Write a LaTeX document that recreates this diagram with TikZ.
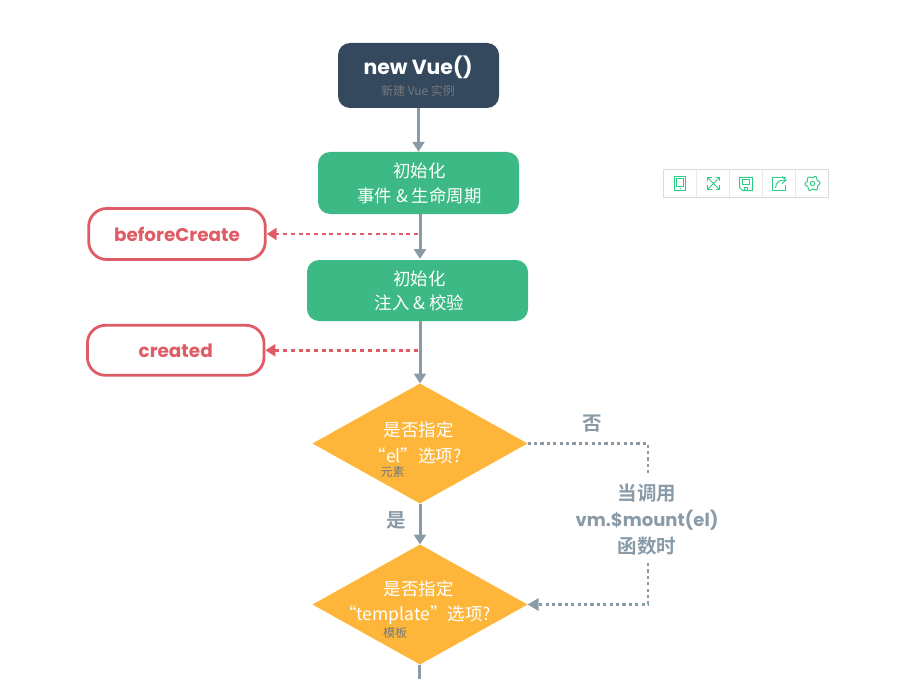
\documentclass[tikz,border=0pt]{standalone}
\usepackage{fontspec}
\setmainfont{Noto Sans CJK SC}
\newfontfamily\latinbold{Poppins Bold}
\newfontfamily\cjkbold{Noto Sans CJK SC Bold}
\usetikzlibrary{arrows.meta,shapes.geometric,calc}
\definecolor{vuedark}{HTML}{35495E}
\definecolor{vuegreen}{HTML}{3CB984}
\definecolor{vuered}{HTML}{DF5C66}
\definecolor{vueorange}{HTML}{FDB63A}
\definecolor{vuegray}{HTML}{8A9BA8}
\definecolor{subgray}{HTML}{75797C}
\definecolor{toolline}{HTML}{D5DEDC}
\definecolor{toolicon}{HTML}{2ECC85}
\tikzset{
  x=1pt,y=-1pt,
  flowbox/.style={rounded corners=12,inner sep=0},
  flowtext/.style={inner sep=0,align=center,text=white,font=\fontsize{17.4}{24.2}\selectfont},
  hookbox/.style={draw=vuered,line width=2.8,fill=white,rounded corners=18,inner sep=0,text=vuered,font=\fontsize{18.4}{22}\latinbold},
  decision/.style={diamond,fill=vueorange,minimum width=215,minimum height=120,inner sep=0,aspect=1.8,outer sep=0},
  decisiontext/.style={text=white,font=\fontsize{17.5}{26.5}\selectfont,inner sep=0},
  chartedge/.style={draw=vuegray,line width=3,-{Triangle[length=10,width=12]}},
  chartline/.style={draw=vuegray,line width=3},
  hookedge/.style={draw=vuered,line width=2.8,dash pattern=on 4 off 3.7,-{Triangle[length=10,width=12,fill=vuered]}},
  optedge/.style={draw=vuegray,line width=2.6,dash pattern=on 3.2 off 3.2},
  sidetext/.style={text=vuegray,font=\fontsize{19.5}{26.7}\cjkbold,align=center,inner sep=0},
  subtext/.style={text=subgray,font=\fontsize{12}{13}\selectfont,inner sep=0},
  icon/.style={draw=toolicon,line width=1,fill=none},
}
\begin{document}
\begin{tikzpicture}
\useasboundingbox (0,0) rectangle (904,679);
% boxes
\node[flowbox,fill=vuedark,minimum width=161,minimum height=65] (new) at (418.5,75.5) {};
\node[font=\fontsize{20.4}{24}\latinbold,text=white,inner sep=0] (newt) at (418,67) {new Vue()};
\node[subtext] (newsub) at (418,91) {新建 Vue 实例};
\node[flowbox,fill=vuegreen,minimum width=201,minimum height=62] (ev) at (418.5,183) {};
\node[flowtext] (evt) at (419.5,183.4) {初始化\\事件 \& 生命周期};
\node[flowbox,fill=vuegreen,minimum width=221,minimum height=61] (inj) at (417.5,290.5) {};
\node[flowtext] (injt) at (419.5,291) {初始化\\注入 \& 校验};
\node[hookbox,minimum width=176.6,minimum height=51] (bc) at (177,234) {beforeCreate};
\node[hookbox,minimum width=176.6,minimum height=50] (cr) at (175.7,350.3) {created};
% diamonds
\node[decision] (d1) at (420,443.5) {};
\node[decision] (d2) at (420,604.5) {};
\node[decisiontext] (d1a) at (418.5,430) {是否指定};
\node[decisiontext] (d1b) at (415,456) {“el”选项?};
\node[subtext] (d1s) at (392.5,472) {元素};
\node[decisiontext] (d2a) at (418.5,588.5) {是否指定};
\node[decisiontext] (d2b) at (415,615) {“template”选项?};
\node[subtext] (d2s) at (395,633) {模板};
% side labels
\node[sidetext] (no) at (592,424) {否};
\node[sidetext] (yes) at (396,520) {是};
\node[sidetext] (when) at (647,519.5) {当调用\\{\fontsize{18}{26.7}\latinbold vm.\$mount(el)}\\函数时};
% connectors
\draw[chartedge] (new.south) -- (new.south |- ev.north);
\draw[chartedge] (420,214) coordinate (e1) -- (420,259) coordinate (e2);
\draw[chartedge] (inj.south -| d1.north) -- (d1.north);
\draw[chartedge] (d1.south) -- (d2.north);
\coordinate (bottom) at (419,679);
\draw[chartline] (d2.south -| bottom) -- (bottom);
\coordinate (h1) at (418,234);
\coordinate (h2) at (418,350.3);
\draw[hookedge] (h1) -- (bc.east);
\draw[hookedge] (h2) -- (cr.east);
\coordinate (c1) at (648,443.5);
\coordinate (c2) at (648,476);
\coordinate (c3) at (648,563);
\coordinate (c4) at (648,604.5);
\draw[optedge] (d1.east) -- (c1) -- (c2);
\draw[optedge,-{Triangle[length=11,width=12,fill=vuegray]}] (c3) -- (c4) -- (d2.east);
% toolbar
\draw[toolline,line width=1] (663.5,169.5) rectangle (828.5,197.5);
\foreach \x in {696.5,729.5,762.5,795.5} \draw[toolline,line width=1,opacity=.6] (\x,169.5) -- (\x,197.5);
% tablet icon
\draw[icon] (674.5,176.5) rectangle (685.5,190.5);
\draw[icon] (676.5,178.5) rectangle (683.5,186.5);
\draw[icon] (679.5,188.5) -- (680.5,188.5);
% expand icon
\draw[icon] (708,178) -- (719,189) (719,178) -- (708,189);
\draw[icon,line width=1.4] (707.5,181.5) -- (707.5,177.5) -- (711.5,177.5) (715.5,177.5) -- (719.5,177.5) -- (719.5,181.5) (719.5,185.5) -- (719.5,189.5) -- (715.5,189.5) (711.5,189.5) -- (707.5,189.5) -- (707.5,185.5);
% save icon
\draw[icon] (739.5,177.5) -- (752.5,177.5) -- (752.5,190.5) -- (742.5,190.5) -- (739.5,187.5) -- cycle;
\draw[icon] (742.5,179.5) rectangle (749.5,184.5);
\draw[icon] (744.5,190.5) -- (744.5,187.5) -- (747.5,187.5) -- (747.5,190.5);
% share icon
\draw[icon] (785.5,177.5) -- (772.5,177.5) -- (772.5,190.5) -- (785.5,190.5) -- (785.5,185);
\draw[icon] (775.5,188) .. controls (776,182) and (779,180) .. (785,180);
\draw[icon] (782,176.5) -- (786,180) -- (782,183.5);
% gear icon
\draw[icon] plot[domain=0:360,samples=73,smooth] ({812.5+(6.6+0.9*cos(6*\x+30))*cos(\x)},{183.5+(6.6+0.9*cos(6*\x+30))*sin(\x)}) -- cycle;
\draw[icon] (812.5,183.5) circle (2.2);
\end{tikzpicture}
\end{document}
